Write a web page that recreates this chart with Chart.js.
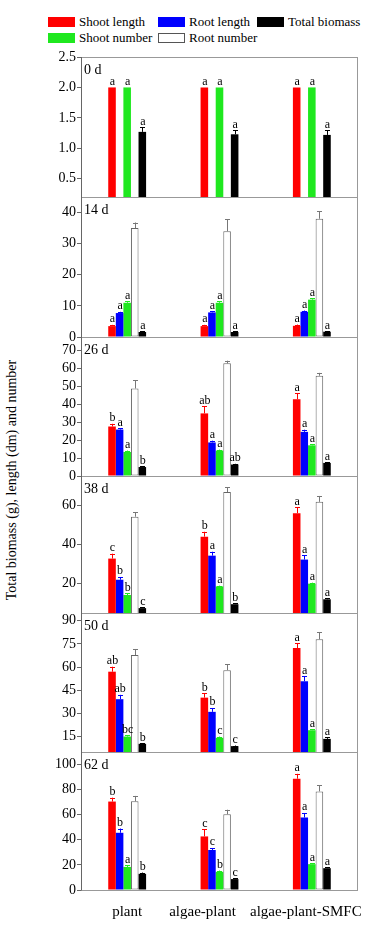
<!DOCTYPE html>
<html>
<head>
<meta charset="utf-8">
<script src="https://cdn.jsdelivr.net/npm/chart.js@4/dist/chart.umd.min.js"></script>
<style>
body { margin: 0; background: #fff; }
#wrap { position: relative; width: 387px; height: 931px; font-family: "Liberation Serif", "DejaVu Serif", serif; color: #000; overflow: hidden; }
#wrap canvas { position: absolute; left: 0; }
.sw { position: absolute; width: 27px; height: 10px; box-sizing: border-box; }
.key { position: absolute; font-family: "Liberation Serif", serif; font-size: 13px; line-height: 14px; white-space: nowrap; }
#ytitle { position: absolute; width: 320px; left: -148px; top: 472px; text-align: center; font-family: "Liberation Serif", serif; font-size: 14px; line-height: 16px; transform: rotate(-90deg); white-space: nowrap; }
</style>
</head>
<body>
<div id="wrap">
  <div id="legend"></div>
  <div id="ytitle">Total biomass (g), length (dm) and number</div>
</div>
<script>
// categories
var treatments = ['plant', 'algae-plant', 'algae-plant-SMFC'];
var days = ['0 d', '14 d', '26 d', '38 d', '50 d', '62 d'];

// series names / colours
var seriesNames = ['Shoot length', 'Root length', 'Shoot number', 'Root number', 'Total biomass'];
var seriesColors = ['#ff0000', '#0000ff', '#1fe81f', '#ffffff', '#000000'];

// values per panel (0 d ... 62 d), one number per treatment
var shootLength = [[2.0, 2.0, 2.0], [3.5, 3.5, 3.6], [27.6, 34.9, 42.8], [32.8, 44.0, 56.0], [57.0, 40.2, 72.3], [70.5, 42.7, 88.7]];
var rootLength = [[null, null, null], [7.7, 7.9, 8.1], [25.9, 18.7, 24.6], [22.0, 34.3, 32.3], [39.2, 31.0, 50.8], [45.6, 31.9, 57.8]];
var shootNumber = [[2.0, 2.0, 2.0], [11, 11, 12], [13.4, 14.2, 17.1], [14.2, 18.6, 20.0], [15.0, 14.2, 19.1], [18.4, 14.5, 20.6]];
var rootNumber = [[null, null, null], [35, 34, 38], [48.8, 62.8, 55.9], [54.2, 66.8, 61.8], [67.8, 58.0, 78.0], [70.7, 60.4, 78.6]];
var totalBiomass = [[1.27, 1.23, 1.22], [1.6, 1.6, 1.7], [5.0, 6.4, 7.3], [7.5, 9.5, 12.0], [10.3, 8.8, 13.5], [12.9, 8.7, 17.4]];

// error bars (upper)
var shootLengthErr = [[0, 0, 0], [0.4, 0.4, 0.4], [1.5, 4.0, 3.2], [2.5, 2.5, 3.0], [3.2, 2.8, 3.1], [3.1, 5.8, 3.9]];
var rootLengthErr = [[0, 0, 0], [0.4, 0.4, 0.4], [0.8, 1.0, 1.2], [1.4, 2.0, 2.2], [2.8, 2.5, 3.4], [3.4, 1.6, 3.6]];
var shootNumberErr = [[0, 0, 0], [0.5, 0.5, 0.5], [0.8, 0.5, 0.5], [0.8, 0.4, 0.5], [1.0, 0.8, 0.6], [1.5, 1.0, 0.8]];
var rootNumberErr = [[0, 0, 0], [1.8, 3.8, 2.4], [4.7, 1.5, 1.6], [2.4, 2.5, 3.0], [3.9, 3.8, 4.7], [4.3, 3.6, 4.8]];
var totalBiomassErr = [[0.08, 0.07, 0.08], [0.2, 0.2, 0.2], [0.3, 0.4, 0.4], [0.4, 0.4, 0.6], [0.4, 0.4, 1.0], [1.0, 0.6, 0.6]];

// significance letters
var shootLengthSig = [['a', 'a', 'a'], ['a', 'a', 'a'], ['b', 'ab', 'a'], ['c', 'b', 'a'], ['ab', 'b', 'a'], ['b', 'c', 'a']];
var rootLengthSig = [['', '', ''], ['a', 'a', 'a'], ['a', 'a', 'a'], ['b', 'a', 'a'], ['ab', 'b', 'a'], ['b', 'c', 'a']];
var shootNumberSig = [['a', 'a', 'a'], ['a', 'a', 'a'], ['a', 'a', 'a'], ['b', 'a', 'a'], ['bc', 'c', 'a'], ['a', 'b', 'a']];
var rootNumberSig = [['', '', ''], ['', '', ''], ['', '', ''], ['', '', ''], ['', '', ''], ['', '', '']];
var totalBiomassSig = [['a', 'a', 'a'], ['a', 'a', 'a'], ['b', 'ab', 'a'], ['c', 'b', 'a'], ['b', 'c', 'a'], ['b', 'c', 'a']];

// axes per panel
var yMin = [0.2, 0, 0, 5, 5, 0];
var yMax = [2.5, 45, 77.5, 75, 95, 110];
var yTicks = [[0.5, 1.0, 1.5, 2.0, 2.5], [0, 10, 20, 30, 40], [0, 10, 20, 30, 40, 50, 60, 70], [20, 40, 60], [15, 30, 45, 60, 75, 90], [0, 20, 40, 60, 80, 100]];

var allValues = [shootLength, rootLength, shootNumber, rootNumber, totalBiomass];
var allErrs = [shootLengthErr, rootLengthErr, shootNumberErr, rootNumberErr, totalBiomassErr];
var allSig = [shootLengthSig, rootLengthSig, shootNumberSig, rootNumberSig, totalBiomassSig];

// layout
var panelTop = [57, 197, 337, 476, 613, 752];
var panelBottom = [197, 337, 476, 613, 752, 890];
var labelShift = [0, -17, -6]; // the original's category labels sit a bit left of the groups
var serif = '"Liberation Serif", "DejaVu Serif", serif';

// legend (column order like the original)
var legendPos = [[48, 17], [158, 17], [48, 33], [158, 33], [257, 17]];
var legend = document.getElementById('legend');
seriesNames.forEach(function (name, i) {
    var sw = document.createElement('div');
    sw.className = 'sw';
    sw.style.left = legendPos[i][0] + 'px';
    sw.style.top = legendPos[i][1] + 'px';
    sw.style.background = seriesColors[i];
    if (i === 3) sw.style.border = '1px solid #555';
    legend.appendChild(sw);
    var t = document.createElement('div');
    t.className = 'key';
    t.textContent = name;
    t.style.left = (legendPos[i][0] + 31) + 'px';
    t.style.top = (legendPos[i][1] - 2) + 'px';
    legend.appendChild(t);
});

var panelPlugin = {
    id: 'panelPlugin',
    afterDatasetsDraw: function (chart) {
        var ctx = chart.ctx;
        var y = chart.scales.y;
        ctx.save();
        chart.data.datasets.forEach(function (ds, i) {
            var meta = chart.getDatasetMeta(i);
            meta.data.forEach(function (bar, j) {
                var v = ds.data[j];
                if (v == null) return;
                var e = ds.errs[j] || 0;
                var top = y.getPixelForValue(v + e);
                if (e > 0) {
                    ctx.strokeStyle = i === 3 ? '#777' : ds.backgroundColor;
                    if (i === 4) ctx.strokeStyle = '#000';
                    ctx.lineWidth = 1;
                    ctx.beginPath();
                    ctx.moveTo(Math.round(bar.x) + 0.5, bar.y);
                    ctx.lineTo(Math.round(bar.x) + 0.5, top);
                    ctx.moveTo(Math.round(bar.x) - 2, Math.round(top) + 0.5);
                    ctx.lineTo(Math.round(bar.x) + 3, Math.round(top) + 0.5);
                    ctx.stroke();
                }
                var s = ds.sig[j];
                if (s) {
                    ctx.fillStyle = '#000';
                    ctx.font = '12px ' + serif;
                    ctx.textAlign = 'center';
                    ctx.textBaseline = 'alphabetic';
                    ctx.fillText(s, bar.x + 0.5, top - 2.5);
                }
            });
        });
        ctx.restore();
    },
    afterDraw: function (chart) {
        var ctx = chart.ctx;
        var a = chart.chartArea;
        ctx.save();
        ctx.strokeStyle = '#999';
        ctx.lineWidth = 1;
        ctx.strokeRect(a.left + 0.5, a.top + 0.5, a.right - a.left - 1, a.bottom - a.top);
        ctx.strokeStyle = '#666';
        ctx.beginPath();
        ctx.moveTo(a.left + 0.5, a.top);
        ctx.lineTo(a.left + 0.5, a.bottom + 0.5);
        ctx.stroke();
        ctx.fillStyle = '#000';
        ctx.font = '14px ' + serif;
        ctx.textAlign = 'left';
        ctx.textBaseline = 'top';
        ctx.fillText(chart.options.panelName, a.left + 3, a.top + 6);
        if (chart.options.showCategories) {
            var x = chart.scales.x;
            ctx.font = '15px ' + serif;
            ctx.textAlign = 'center';
            ctx.textBaseline = 'alphabetic';
            chart.data.labels.forEach(function (lab, i) {
                ctx.fillText(lab, x.getPixelForValue(i) + labelShift[i], a.bottom + 26);
            });
        }
        ctx.restore();
    }
};

var wrap = document.getElementById('wrap');
days.forEach(function (day, p) {
    var last = p === days.length - 1;
    var padTop = 12;
    var padBottom = last ? 38 : 12;
    var h = panelBottom[p] - panelTop[p] + padTop + padBottom;
    var canvas = document.createElement('canvas');
    canvas.width = 387;
    canvas.height = h;
    canvas.style.width = '387px';
    canvas.style.height = h + 'px';
    canvas.style.top = (panelTop[p] - padTop) + 'px';
    wrap.appendChild(canvas);

    var datasets = seriesNames.map(function (name, i) {
        return {
            label: name,
            data: allValues[i][p],
            errs: allErrs[i][p],
            sig: allSig[i][p],
            backgroundColor: seriesColors[i],
            borderColor: i === 3 ? '#666' : seriesColors[i],
            borderWidth: i === 3 ? 1 : 0,
            borderSkipped: false,
            categoryPercentage: 0.41,
            barPercentage: 1.0
        };
    });

    new Chart(canvas, {
        type: 'bar',
        data: { labels: treatments, datasets: datasets },
        options: {
            panelName: day,
            showCategories: last,
            responsive: false,
            animation: false,
            devicePixelRatio: 1,
            layout: { padding: { top: padTop, bottom: padBottom, left: 0, right: 29 } },
            plugins: { legend: { display: false }, tooltip: { enabled: false } },
            scales: {
                x: { display: false },
                y: {
                    min: yMin[p],
                    max: yMax[p],
                    afterBuildTicks: function (axis) {
                        axis.ticks = yTicks[p].map(function (v) { return { value: v }; });
                    },
                    ticks: {
                        color: '#000',
                        font: { family: serif, size: 14 },
                        padding: 1,
                        autoSkip: false,
                        callback: function (v) { return p === 0 ? Number(v).toFixed(1) : v; }
                    },
                    grid: { drawOnChartArea: false, tickLength: 4, color: '#666' },
                    border: { display: true, color: '#666' },
                    afterFit: function (s) { s.width = 81; }
                }
            }
        },
        plugins: [panelPlugin]
    });
});
</script>
</body>
</html>
